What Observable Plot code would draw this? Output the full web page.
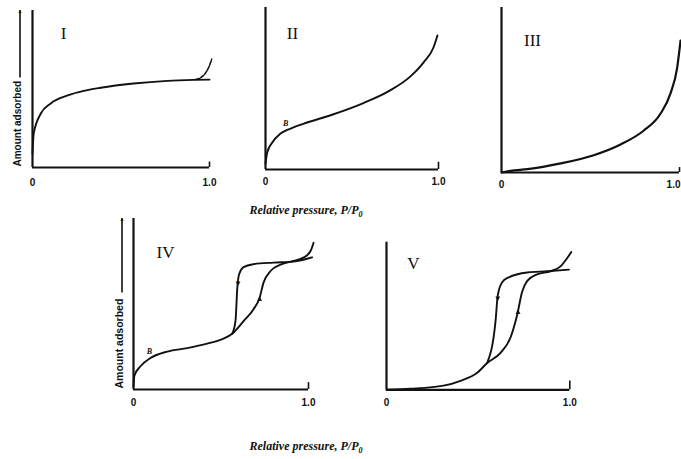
<!DOCTYPE html>
<html><head><meta charset="utf-8">
<script src="https://cdn.jsdelivr.net/npm/d3@7"></script>
<script src="https://cdn.jsdelivr.net/npm/@observablehq/plot@0.6"></script>
<style>
body{margin:0;background:#fff}
#wrap{position:relative;width:681px;height:459px;overflow:hidden;background:#fff}
.panel{position:absolute}
.xlab{position:absolute;transform:translate(-50%,-50%);font-family:"Liberation Serif",serif;font-style:italic;font-weight:bold;font-size:12px;color:#111;white-space:nowrap}
.xlab sub{font-size:8px}
</style></head><body><div id="wrap"></div><script>
// relative pressure P/P0 (x) and amount adsorbed (y, fraction of axis height)
const typeI = [[0,0.089],[0.007,0.217],[0.047,0.344],[0.103,0.408],[0.199,0.459],[0.289,0.488],[0.385,0.508],[0.571,0.535],[0.763,0.552],[0.91,0.558],[1.0,0.56]];
const typeIUp = [[0.92,0.56],[0.96,0.58],[0.985,0.615],[1.0,0.65],[1.013,0.69]];
const typeII = [[0,0.037],[0.01,0.105],[0.039,0.167],[0.087,0.222],[0.145,0.253],[0.241,0.29],[0.376,0.335],[0.566,0.41],[0.723,0.49],[0.838,0.575],[0.913,0.66],[0.971,0.753],[0.994,0.827]];
const typeIII = [[0,0.0],[0.05,0.01],[0.146,0.02],[0.333,0.055],[0.518,0.105],[0.669,0.17],[0.798,0.253],[0.893,0.356],[0.949,0.478],[0.987,0.636],[1.006,0.8]];
const typeIVads = [[0,0.02],[0.005,0.08],[0.04,0.136],[0.097,0.184],[0.193,0.222],[0.307,0.242],[0.421,0.268],[0.514,0.297],[0.564,0.326],[0.629,0.4],[0.686,0.47],[0.72,0.534],[0.743,0.625],[0.783,0.693],[0.84,0.73],[0.914,0.752],[0.971,0.771],[1.011,0.808],[1.029,0.858]];
const typeIVdes = [[0.564,0.326],[0.583,0.403],[0.593,0.591],[0.603,0.672],[0.629,0.716],[0.686,0.733],[0.8,0.742],[0.914,0.748],[1.02,0.773]];
const typeVads = [[0,0],[0.131,0.007],[0.311,0.028],[0.404,0.061],[0.495,0.115],[0.549,0.181],[0.622,0.25],[0.677,0.356],[0.713,0.509],[0.74,0.664],[0.768,0.738],[0.822,0.782],[0.895,0.803],[0.949,0.836],[0.986,0.893],[1.008,0.934]];
const typeVdes = [[0.549,0.181],[0.595,0.467],[0.607,0.64],[0.631,0.729],[0.667,0.762],[0.768,0.795],[0.877,0.803],[0.995,0.814]];
// hysteresis direction markers: [p, n, direction]
const arrowsIV = [[0.597,0.62,"down"],[0.72,0.534,"up"]];
const arrowsV = [[0.607,0.62,"down"],[0.717,0.533,"up"]];
const xTickStart = [[0,"0"]];
const xTickEnd = [[1,"1.0"]];
const xTitle = "Relative pressure, P/P";

const wrap = document.getElementById("wrap");

function panel(o){
  const tickStyle = {fontSize:10,fontWeight:"bold",fontFamily:"Liberation Sans, sans-serif",fill:"#111"};
  const marks = [
    Plot.ruleX([0],{y1:0,y2:1,strokeWidth:2.2,stroke:"#111"}),
    Plot.ruleY([0],{x1:0,x2:1,strokeWidth:2.2,stroke:"#111"}),
    Plot.ruleX([1],{y1:0,y2:o.tick,strokeWidth:1.6,stroke:"#111"}),
    Plot.text(xTickStart,{x:d=>d[0],y:0,text:d=>d[1],dy:o.tickDy,...tickStyle}),
    Plot.text(xTickEnd,{x:d=>d[0],y:0,text:d=>d[1],dy:o.tickDy,dx:o.lastEnd?1:0,textAnchor:o.lastEnd?"end":"middle",...tickStyle}),
    Plot.text([o.label],{frameAnchor:"top-left",dx:o.ldx,dy:o.ldy,text:d=>d,fontSize:17,fontFamily:"Liberation Serif, serif",fill:"#111",textAnchor:"middle",lineAnchor:"middle"})
  ];
  for (const s of o.series){
    marks.push(Plot.line(s.data,{x:d=>d[0],y:d=>d[1],curve:"monotone-x",strokeWidth:s.w||1.9,stroke:"#111",strokeDasharray:s.dash}));
  }
  if (o.b){
    marks.push(Plot.text([o.b.pt],{x:d=>d[0],y:d=>d[1],text:()=>"B",dx:o.b.dx,dy:o.b.dy,fontSize:8,fontStyle:"italic",fontWeight:"bold",fontFamily:"Liberation Serif, serif",fill:"#111"}));
  }
  if (o.arrows){
    marks.push(Plot.text(o.arrows,{x:d=>d[0],y:d=>d[1],text:d=>d[2]==="up"?"▲":"▼",fontSize:8,fill:"#111",lineAnchor:"middle"}));
  }
  if (o.ylabel){
    marks.push(Plot.text(["Amount adsorbed"],{frameAnchor:"bottom-left",rotate:-90,textAnchor:"start",lineAnchor:"middle",dx:o.ylabel.dx,dy:-1,text:d=>d,fontSize:o.ylabel.fs,fontWeight:"bold",fontFamily:"Liberation Sans, sans-serif",fill:"#111"}));
    marks.push(Plot.ruleX([0],{y1:o.ylabel.from,y2:1,dx:o.ylabel.dx+2.5,strokeWidth:1.6,stroke:"#111"}));
    marks.push(Plot.text([0],{x:0,y:1,dx:o.ylabel.dx+2.5,dy:1,text:()=>"▲",fontSize:5,fill:"#111"}));
  }
  const svg = Plot.plot({
    width:o.width,height:o.height,
    marginTop:o.m[0],marginRight:o.m[1],marginBottom:o.m[2],marginLeft:o.m[3],
    x:{domain:[0,1],axis:null},y:{domain:[0,1],axis:null},
    style:{overflow:"visible",background:"transparent"},
    marks
  });
  svg.classList.add("panel");
  svg.style.left=o.left+"px"; svg.style.top=o.top+"px";
  svg.style.position="absolute";
  wrap.appendChild(svg);
}

panel({left:0,top:0,width:230,height:195,m:[10,21,28,32],tick:0.035,tickDy:15,label:"I",ldx:31,ldy:23,
  series:[{data:typeI},{data:typeIUp,w:1.6,dash:"4,1.5"}],
  ylabel:{dx:-15,from:0.57,fs:10}});
panel({left:230,top:0,width:230,height:195,m:[7,22,26,35],tick:0.045,tickDy:12,label:"II",ldx:27,ldy:26,
  series:[{data:typeII}], b:{pt:typeII[4],dx:-5,dy:-5}});
panel({left:460,top:0,width:221,height:195,m:[7,2,23,41],tick:0.03,tickDy:12,label:"III",ldx:31,ldy:33,lastEnd:true,
  series:[{data:typeIII,w:2.2}]});
panel({left:100,top:195,width:240,height:225,m:[23,32,31,33],tick:0.04,tickDy:13,label:"IV",ldx:32,ldy:34,
  series:[{data:typeIVads},{data:typeIVdes}], b:{pt:typeIVads[3],dx:-1,dy:-7}, arrows:arrowsIV,
  ylabel:{dx:-14,from:0.565,fs:10.5}});
panel({left:350,top:195,width:240,height:225,m:[46.7,20.7,30.7,36],tick:0.06,tickDy:13,label:"V",ldx:27,ldy:21,
  series:[{data:typeVads},{data:typeVdes}], arrows:arrowsV});

for (const [cx,cy] of [[306,211],[306,447]]){
  const d=document.createElement("div");
  d.className="xlab"; d.style.left=cx+"px"; d.style.top=cy+"px";
  d.innerHTML=xTitle+"<sub>0</sub>";
  wrap.appendChild(d);
}
</script></body></html>
